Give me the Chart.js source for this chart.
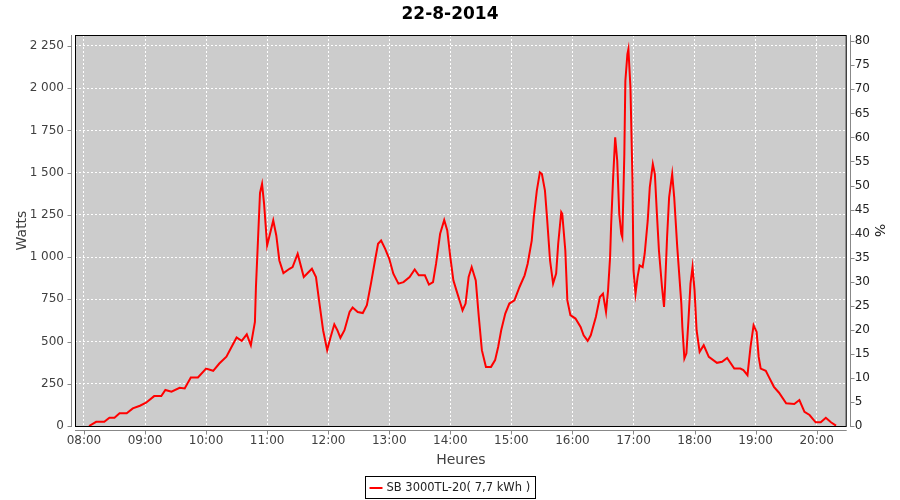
<!DOCTYPE html>
<html>
<head>
<meta charset="utf-8">
<script src="https://cdn.jsdelivr.net/npm/chart.js@4.4.0/dist/chart.umd.min.js"></script>
<style>
  html, body { margin: 0; padding: 0; background: #fff; }
</style>
</head>
<body>
<canvas id="powerChart" width="900" height="500"></canvas>
<script>
// readings of the inverter for the day (time, watts)
const times = [
  '08:05','08:12','08:20','08:25','08:30','08:35','08:42','08:48','08:55','09:01',
  '09:09','09:16','09:20','09:26','09:34','09:39','09:45','09:52','10:00','10:07',
  '10:13','10:20','10:25','10:30','10:35','10:40','10:44','10:48','10:49','10:51',
  '10:53','10:55','10:57','11:00','11:02','11:06','11:09','11:12','11:16','11:22',
  '11:25','11:30','11:33','11:36','11:44','11:48','11:51','11:55','11:59','12:02',
  '12:06','12:09','12:12','12:16','12:21','12:24','12:29','12:34','12:38','12:42',
  '12:46','12:49','12:52','12:56','13:00','13:04','13:09','13:14','13:20','13:25',
  '13:29','13:35','13:39','13:43','13:46','13:50','13:54','13:57','14:00','14:03',
  '14:06','14:10','14:12','14:15','14:18','14:21','14:25','14:28','14:31','14:35',
  '14:40','14:44','14:47','14:50','14:54','14:58','15:03','15:08','15:13','15:16',
  '15:20','15:22','15:25','15:28','15:30','15:33','15:35','15:38','15:41','15:44',
  '15:46','15:49','15:50','15:53','15:55','15:58','16:03','16:08','16:11','16:15',
  '16:18','16:23','16:27','16:30','16:33','16:35','16:37','16:38','16:40','16:42',
  '16:44','16:45','16:46','16:48','16:49','16:50','16:51','16:52','16:54','16:55',
  '16:57','16:59','17:00','17:02','17:04','17:06','17:09','17:11','17:14','17:16',
  '17:19','17:21','17:23','17:25','17:28','17:30','17:31','17:33','17:35','17:38',
  '17:40','17:43','17:47','17:48','17:50','17:52','17:54','17:56','17:58','18:00',
  '18:02','18:05','18:09','18:14','18:22','18:27','18:32','18:39','18:45','18:48',
  '18:52','18:55','18:58','19:01','19:03','19:05','19:10','19:13','19:18','19:23',
  '19:30','19:38','19:43','19:48','19:53','19:59','20:04','20:09','20:14','20:19'
];
const watts = [
  0, 25, 25, 49, 49, 75, 75, 104, 120, 138,
  177, 177, 213, 203, 226, 222, 287, 287, 340, 327,
  370, 410, 468, 524, 504, 543, 478, 616, 823, 1100,
  1380, 1433, 1315, 1069, 1118, 1217, 1128, 980, 905, 931,
  941, 1020, 951, 882, 931, 882, 744, 567, 449, 518,
  602, 567, 522, 567, 675, 701, 675, 669, 715, 843,
  980, 1079, 1098, 1049, 990, 902, 843, 852, 882, 927,
  892, 892, 837, 852, 961, 1138, 1220, 1158, 1000, 862,
  803, 725, 685, 725, 882, 941, 862, 646, 449, 350,
  350, 390, 468, 567, 666, 725, 744, 823, 892, 961,
  1098, 1236, 1394, 1502, 1492, 1394, 1236, 980, 843, 902,
  1079, 1266, 1256, 1039, 744, 656, 636, 586, 537, 504,
  537, 646, 764, 784, 675, 803, 1000, 1187, 1472, 1709,
  1571, 1413, 1256, 1138, 1118, 1354, 1610, 2043, 2201, 2231,
  2004, 1453, 921, 784, 882, 951, 941, 1020, 1217, 1413,
  1551, 1492, 1256, 1039, 823, 705, 823, 1118, 1354, 1492,
  1354, 1059, 725, 586, 400, 430, 626, 843, 941, 803,
  567, 439, 478, 409, 374, 380, 403, 340, 340, 331,
  301, 468, 596, 557, 409, 340, 327, 291, 232, 197,
  134, 130, 154, 84, 65, 22, 22, 49, 22, 2
];
const hourLabels = ['08:00','09:00','10:00','11:00','12:00','13:00','14:00',
  '15:00','16:00','17:00','18:00','19:00','20:00'];
const seriesName = 'SB 3000TL-20( 7,7 kWh )';

function toMinutes(t) {
  const p = t.split(':');
  return parseInt(p[0], 10) * 60 + parseInt(p[1], 10);
}

function spaced(v) {
  return String(Math.round(v)).replace(/\B(?=(\d{3})+(?!\d))/g, ' ');
}

const points = times.map((t, i) => ({ x: toMinutes(t), y: watts[i] }));

const tickFont = { family: 'DejaVu Sans', size: 12 };
const titleFont = { family: 'DejaVu Sans', size: 14 };

// plot background, frame, offset axis lines and legend box
const framePlugin = {
  id: 'frame',
  beforeDraw(chart) {
    const { ctx, chartArea: a } = chart;
    ctx.save();
    ctx.fillStyle = '#ffffff';
    ctx.fillRect(0, 0, chart.width, chart.height);
    ctx.fillStyle = '#cccccc';
    ctx.fillRect(a.left, a.top, a.right - a.left, a.bottom - a.top);
    ctx.restore();
  },
  afterDatasetsDraw(chart) {
    const { ctx, chartArea: a } = chart;
    ctx.save();
    ctx.strokeStyle = '#000';
    ctx.lineWidth = 1;
    ctx.strokeRect(a.left + 0.5, a.top + 0.5, a.right - a.left - 1, a.bottom - a.top);
    ctx.restore();
  },
  afterDraw(chart) {
    const { ctx, chartArea: a, scales } = chart;
    ctx.save();
    ctx.strokeStyle = '#888888';
    ctx.lineWidth = 1;
    ctx.beginPath();
    // left axis
    const lx = Math.round(a.left) - 3.5;
    ctx.moveTo(lx, a.top); ctx.lineTo(lx, a.bottom + 1);
    scales.y.ticks.forEach(t => {
      const y = Math.round(scales.y.getPixelForValue(t.value)) + 0.5;
      ctx.moveTo(lx - 4, y); ctx.lineTo(lx, y);
    });
    // right axis
    const rx = Math.round(a.right) + 3.5;
    ctx.moveTo(rx, a.top); ctx.lineTo(rx, a.bottom + 1);
    scales.y1.ticks.forEach(t => {
      const y = Math.round(scales.y1.getPixelForValue(t.value)) + 0.5;
      ctx.moveTo(rx, y); ctx.lineTo(rx + 4, y);
    });
    // bottom axis
    const by = Math.round(a.bottom) + 4.5;
    ctx.moveTo(a.left, by); ctx.lineTo(a.right, by);
    scales.x.ticks.forEach(t => {
      const x = Math.round(scales.x.getPixelForValue(t.value)) + 0.5;
      ctx.moveTo(x, by); ctx.lineTo(x, by + 4);
    });
    ctx.stroke();

    // legend
    ctx.font = '11.5px "DejaVu Sans"';
    const tw = ctx.measureText(seriesName).width;
    const boxW = Math.round(tw + 26);
    const boxL = Math.round(chart.width / 2 - boxW / 2) + 0.5;
    const boxT = 476.5;
    ctx.strokeStyle = '#000';
    ctx.strokeRect(boxL, boxT, boxW, 22);
    ctx.strokeStyle = '#ff0000';
    ctx.lineWidth = 2;
    ctx.beginPath();
    ctx.moveTo(boxL + 4, boxT + 11.5); ctx.lineTo(boxL + 17, boxT + 11.5);
    ctx.stroke();
    ctx.fillStyle = '#222';
    ctx.textBaseline = 'middle';
    ctx.fillText(seriesName, boxL + 21, boxT + 12);
    ctx.restore();
  }
};

new Chart(document.getElementById('powerChart'), {
  type: 'line',
  data: {
    datasets: [{
      label: seriesName,
      data: points,
      borderColor: '#ff0000',
      borderWidth: 2,
      pointRadius: 0,
      tension: 0,
      fill: false,
      yAxisID: 'y'
    }]
  },
  options: {
    responsive: false,
    animation: false,
    layout: { padding: 0 },
    plugins: {
      legend: { display: false },
      tooltip: { enabled: false },
      title: {
        display: true,
        text: '22-8-2014',
        color: '#000',
        font: { family: 'DejaVu Sans', size: 17, weight: 'bold' },
        padding: { top: 4, bottom: 10.6 }
      }
    },
    scales: {
      x: {
        type: 'linear',
        min: 471.2,
        max: 1229.5,
        afterFit: s => { s.height = 74; },
        grid: { color: '#ffffff', lineWidth: 1, drawTicks: false },
        border: { display: false, dash: [2, 2] },
        ticks: {
          stepSize: 60,
          includeBounds: false,
          padding: 8,
          maxRotation: 0,
          color: '#404040',
          font: tickFont,
          callback: v => hourLabels[Math.round((v - 480) / 60)] || ''
        },
        title: {
          display: true,
          text: 'Heures',
          color: '#404040',
          font: titleFont,
          padding: { top: 0, bottom: 31.6 }
        }
      },
      y: {
        position: 'left',
        min: 0,
        max: 2315,
        afterFit: s => { s.width = 75; },
        grid: { color: '#ffffff', lineWidth: 1, drawTicks: false },
        border: { display: false, dash: [2, 2] },
        ticks: {
          stepSize: 250,
          includeBounds: false,
          padding: 11,
          color: '#404040',
          font: tickFont,
          callback: v => spaced(v)
        },
        title: {
          display: true,
          text: 'Watts',
          color: '#404040',
          font: titleFont,
          padding: { top: 13.6, bottom: 0 }
        }
      },
      y1: {
        position: 'right',
        min: 0,
        max: 81.3,
        afterFit: s => { s.width = 53.3; },
        grid: { drawOnChartArea: false, drawTicks: false },
        border: { display: false },
        ticks: {
          stepSize: 5,
          includeBounds: false,
          padding: 8,
          color: '#222222',
          font: tickFont
        },
        title: {
          display: true,
          text: '%',
          color: '#222222',
          font: titleFont,
          padding: { top: 12.6, bottom: 0 }
        }
      }
    }
  },
  plugins: [framePlugin]
});
</script>
</body>
</html>
